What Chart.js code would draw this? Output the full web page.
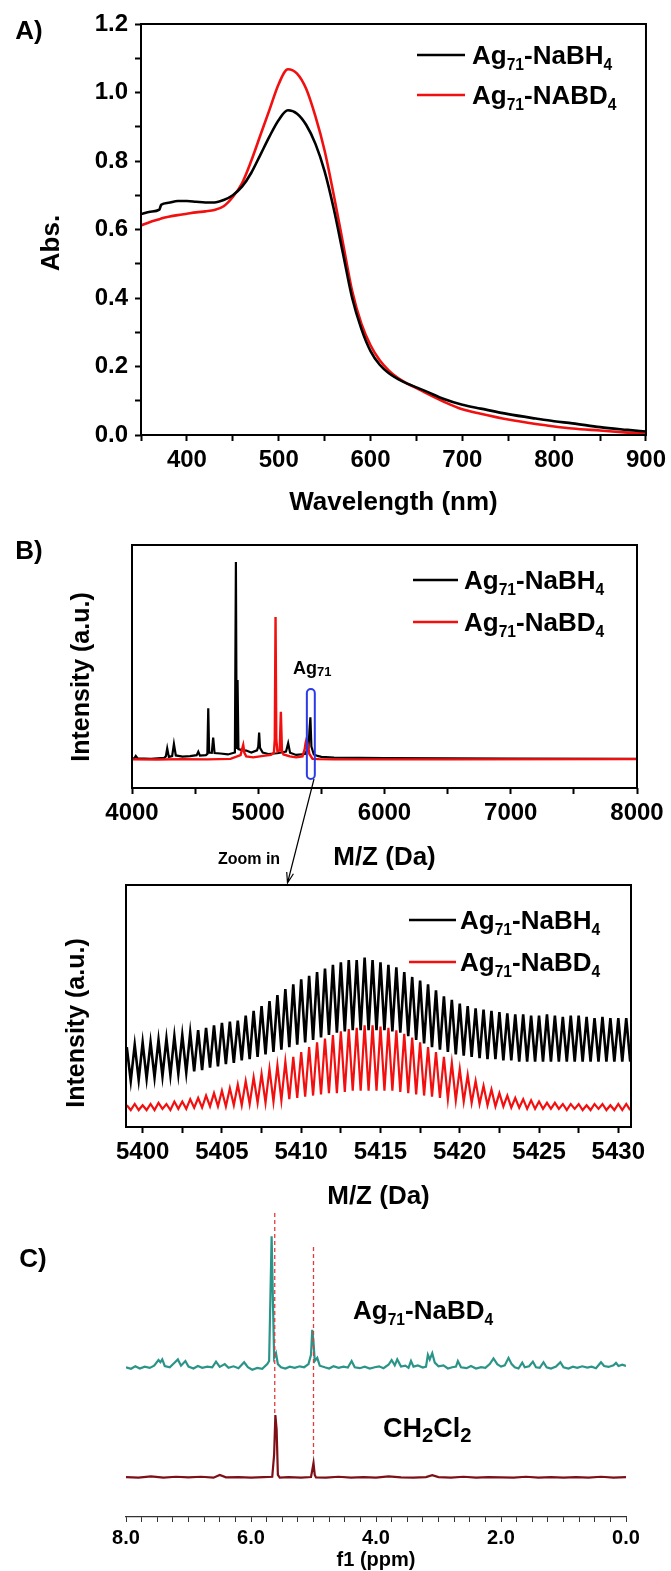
<!DOCTYPE html>
<html>
<head>
<meta charset="utf-8">
<title>Ag71 NaBH4 / NaBD4</title>
<script src="https://cdn.jsdelivr.net/npm/chart.js@4.4.1/dist/chart.umd.min.js"></script>
<style>
  html, body { margin: 0; padding: 0; background: #fff; overflow: hidden; }
  #page { position: relative; width: 671px; height: 1571px; }
  canvas { position: absolute; left: 0; }
</style>
</head>
<body>
<div id="page">
  <canvas id="uvChart" width="671" height="520" style="top:0;width:671px;height:520px"></canvas>
  <canvas id="msChart" width="671" height="370" style="top:520px;width:671px;height:370px"></canvas>
  <canvas id="zoomChart" width="671" height="340" style="top:875px;width:671px;height:340px"></canvas>
  <canvas id="nmrChart" width="671" height="371" style="top:1200px;width:671px;height:371px"></canvas>
</div>
<script>
// ---- A) UV-vis absorbance ----
const wavelength = [350, 360, 370, 372, 380, 390, 400, 410, 420, 430, 440, 450, 460, 470, 480, 490,
  500, 510, 520, 530, 540, 550, 560, 570, 580, 590, 600, 610, 620, 630, 640, 650, 660, 680,
  700, 720, 750, 780, 800, 820, 850, 880, 900];
const absNaBH4 = [0.645, 0.652, 0.658, 0.672, 0.678, 0.683, 0.683, 0.681, 0.679, 0.679, 0.686, 0.700,
  0.725, 0.765, 0.818, 0.872, 0.920, 0.948, 0.938, 0.905, 0.850, 0.770, 0.660, 0.530, 0.400, 0.310,
  0.245, 0.205, 0.180, 0.163, 0.150, 0.139, 0.128, 0.105, 0.088, 0.077, 0.061, 0.048, 0.040, 0.034,
  0.023, 0.015, 0.010];
const absNaBD4 = [0.612, 0.622, 0.630, 0.632, 0.637, 0.642, 0.646, 0.650, 0.653, 0.657, 0.668, 0.695,
  0.735, 0.800, 0.875, 0.950, 1.025, 1.068, 1.055, 1.010, 0.930, 0.830, 0.700, 0.560, 0.420, 0.325,
  0.262, 0.218, 0.188, 0.166, 0.150, 0.137, 0.123, 0.097, 0.075, 0.062, 0.045, 0.032, 0.025, 0.019,
  0.013, 0.007, 0.004];

// ---- B) mass spectrum, [m/z, intensity] ----
const msNaBH4 = [[4000, 12], [4020, 12.3], [4030, 13.2], [4045, 12.2], [4150, 12], [4255, 12.4],
  [4268, 13], [4279, 16.3], [4292, 12.8], [4318, 13.1], [4332, 18.1], [4347, 13.4], [4400, 12.9],
  [4460, 13.1], [4512, 13.5], [4525, 14.9], [4538, 13.3], [4585, 13.5], [4597, 14], [4604, 32.8],
  [4611, 14.6], [4632, 14.5], [4643, 20.7], [4654, 14.4], [4700, 14.2], [4760, 13.8], [4815, 14.6],
  [4823, 93], [4829, 16], [4836, 44.4], [4843, 16], [4870, 15.6], [4905, 15.4], [4945, 14.6],
  [4990, 15.5], [5000, 17], [5007, 22.8], [5014, 16.5], [5035, 14.6], [5080, 14], [5150, 14.3],
  [5220, 15], [5237, 18.4], [5252, 14.5], [5300, 13.6], [5370, 14], [5398, 16.5], [5406, 24],
  [5413, 29.1], [5421, 17], [5440, 13.8], [5470, 13.2], [5500, 12.8], [5600, 12.5], [6000, 12.3],
  [7000, 12.1], [8000, 12]];
const msNaBD4 = [[4000, 11.8], [4200, 11.7], [4400, 11.9], [4600, 11.8], [4780, 12], [4860, 13.5],
  [4872, 16], [4881, 17.7], [4890, 14.5], [4905, 13], [4960, 12.6], [5040, 13.2], [5100, 13.6],
  [5124, 14.5], [5131, 20], [5137, 70.4], [5143, 20], [5152, 15], [5170, 15.5], [5179, 31.4],
  [5188, 15], [5200, 13.8], [5250, 13], [5300, 12.6], [5350, 13], [5368, 16], [5375, 18.5],
  [5382, 20], [5392, 18], [5405, 14], [5430, 12], [5480, 11.9], [5600, 11.8], [6500, 11.8],
  [8000, 11.9]];
// boxed Ag71 region: m/z span and intensity span
const boxMz = [5385, 5448];
const boxInt = [3.7, 40.7];

// ---- B) zoom on the Ag71 isotope pattern ----
const isoStart = 5399.0;
const isoStep = 0.5;
const zoomBH4Peaks = [
  33, 34, 35, 35, 36, 36.5, 37.5, 38, 39, 40,
  41, 42, 43, 43.5, 44, 46, 48, 50, 52, 54.5,
  57, 59, 61, 62.5, 64, 65.5, 67, 68, 69, 69,
  70, 69, 68, 67, 66, 64, 62, 60.5, 59, 56.5,
  54, 52.5, 51, 50, 49, 48.5, 48, 47.5, 47, 46.5,
  46.5, 46, 46, 46.5, 46, 45.5, 46, 46, 45.5, 45,
  45.5, 45, 45, 45];
const zoomBH4Valleys = [
  19, 19.5, 20, 20.5, 21, 21.5, 22, 22.5, 23, 23.5,
  24.5, 25, 26, 26.5, 27.5, 28, 29, 30, 31, 32,
  33, 34, 35, 36, 37, 38, 39, 39.5, 40, 40,
  40, 40, 40, 39.5, 39, 37.5, 36, 34.5, 33, 32,
  31, 30, 29.5, 29, 28.5, 28, 28, 27.5, 27.5, 27,
  27, 27, 27, 27, 27, 27, 27, 27, 27, 27,
  27, 27, 27, 27];
const zoomBD4Peaks = [
  9, 9.5, 9, 9.5, 10, 9.5, 10.5, 10.5, 11.5, 12,
  13, 14, 15, 16, 17.5, 19, 20.5, 22, 24, 25.5,
  27, 29, 31, 33, 35, 36.5, 38, 39.5, 40.5, 41,
  42, 42, 41.5, 41, 40, 38.5, 37, 35, 33, 31,
  29, 26.5, 24, 21.5, 19, 17, 15.5, 14, 13, 12,
  11.5, 11, 10.5, 10, 10, 9.5, 9.5, 9.5, 9, 9.5,
  9.5, 9, 9.5, 9.5];
const zoomBD4Valleys = [
  7, 7, 7, 7, 7.5, 7, 7.5, 7.5, 8, 8,
  8.5, 8.5, 8.5, 9, 9, 9.5, 10, 10, 10.5, 11,
  11.5, 12, 12.5, 13, 13.5, 14, 14, 14.5, 15, 15,
  15, 15, 15, 15, 14.5, 14, 13.5, 13, 12.5, 12,
  11.5, 11, 10.5, 10, 9.5, 9, 8.5, 8.5, 8, 8,
  7.5, 7.5, 7.5, 7.5, 7.5, 7, 7.5, 7, 7, 7.5,
  7, 7, 7, 7];

// ---- C) 1H NMR, [ppm, intensity] ----
const nmrNaBD4 = [[8.00, 48], [7.92, 47.5], [7.85, 48.3], [7.78, 47.6], [7.70, 48.2], [7.62, 47.8],
  [7.55, 48.5], [7.48, 50.3], [7.45, 49.6], [7.42, 50.5], [7.38, 48.4], [7.30, 48], [7.22, 49.5],
  [7.17, 50.5], [7.12, 48.5], [7.05, 50], [7.00, 48.2], [6.92, 47.6], [6.85, 48.4], [6.78, 47.8],
  [6.70, 48.2], [6.62, 48], [6.56, 49.8], [6.50, 48.1], [6.42, 49], [6.36, 47.8], [6.28, 48.3],
  [6.20, 47.7], [6.11, 49.6], [6.05, 48], [5.98, 47.2], [5.90, 47.8], [5.82, 47.5], [5.74, 49],
  [5.71, 50], [5.69, 70], [5.67, 90], [5.65, 70], [5.63, 51], [5.60, 52.5], [5.57, 49], [5.52, 48],
  [5.45, 47.6], [5.38, 48.2], [5.30, 47.8], [5.22, 48.3], [5.15, 48], [5.08, 49], [5.04, 52],
  [5.02, 60], [5.00, 56], [4.98, 50], [4.94, 51], [4.90, 48.5], [4.82, 48], [4.75, 47.6],
  [4.68, 48.3], [4.60, 47.8], [4.52, 48.2], [4.45, 47.9], [4.39, 50], [4.34, 48], [4.26, 47.7],
  [4.18, 48.2], [4.10, 47.6], [4.02, 48], [3.95, 48.3], [3.88, 47.7], [3.80, 48.8], [3.75, 50.3],
  [3.70, 48.6], [3.66, 50.5], [3.60, 48.2], [3.53, 48.5], [3.48, 47.8], [3.44, 50], [3.40, 48.2],
  [3.33, 48.6], [3.25, 47.9], [3.20, 48.2], [3.17, 52], [3.14, 50.5], [3.10, 52.5], [3.06, 49.5],
  [3.00, 48.3], [2.92, 48.6], [2.85, 47.6], [2.78, 48], [2.72, 48.2], [2.69, 50], [2.64, 48],
  [2.55, 47.7], [2.48, 48.4], [2.40, 47.6], [2.32, 48], [2.25, 47.8], [2.18, 49], [2.12, 50.8],
  [2.06, 49], [2.00, 48.2], [1.94, 48.6], [1.88, 51], [1.83, 49], [1.78, 48], [1.72, 47.6],
  [1.66, 49.5], [1.62, 48], [1.55, 48.3], [1.49, 49.8], [1.44, 48], [1.38, 47.8], [1.32, 49.6],
  [1.27, 48], [1.20, 47.6], [1.12, 48.2], [1.05, 49.6], [1.00, 48], [0.92, 47.6], [0.85, 48.2],
  [0.78, 47.8], [0.70, 48.3], [0.62, 47.9], [0.55, 48.2], [0.48, 47.7], [0.40, 49.6], [0.35, 48.4],
  [0.28, 48.1], [0.20, 48.6], [0.16, 49.4], [0.12, 48.4], [0.06, 48.8], [0.00, 48.4]];
const nmrCH2Cl2 = [[8.00, 12.8], [7.80, 12.6], [7.60, 13], [7.40, 12.6], [7.20, 12.9], [7.00, 12.7],
  [6.80, 12.9], [6.60, 12.6], [6.50, 13.5], [6.40, 12.7], [6.20, 12.8], [6.00, 12.6], [5.80, 12.8],
  [5.66, 12.9], [5.63, 20], [5.61, 32.7], [5.59, 28], [5.57, 13.5], [5.54, 12.6], [5.40, 12.8],
  [5.20, 12.6], [5.04, 12.8], [5.02, 15], [5.00, 17.3], [4.98, 13.5], [4.96, 12.7], [4.80, 12.6],
  [4.60, 12.9], [4.40, 12.6], [4.20, 12.8], [4.00, 12.6], [3.80, 13], [3.60, 12.7], [3.40, 12.6],
  [3.20, 12.8], [3.10, 13.4], [3.00, 12.8], [2.80, 12.6], [2.60, 12.9], [2.40, 12.6], [2.20, 12.8],
  [2.00, 12.7], [1.80, 12.6], [1.60, 12.9], [1.40, 12.6], [1.20, 12.8], [1.00, 12.6], [0.80, 12.8],
  [0.60, 12.6], [0.40, 12.9], [0.20, 12.6], [0.00, 12.8]];
// dashed guides joining the matching signals
const refShift = [5.62, 5.00];
const refTop = [97.4, 86.5];
const refBottom = [32.7, 19.2];

const FONT = "'Liberation Sans', Arial, Helvetica, sans-serif";
const RED = '#f20f0f';
const TEAL = '#2a9488';
const MAROON = '#7d0f16';

const LBL_BH4 = [['Ag', 0], ['71', 1], ['-NaBH', 0], ['4', 1]];
const LBL_BD4 = [['Ag', 0], ['71', 1], ['-NaBD', 0], ['4', 1]];
const LBL_ABD4 = [['Ag', 0], ['71', 1], ['-NABD', 0], ['4', 1]];

// Text with subscripts, vertically centred on cy
function richText(ctx, parts, x, cy, size, subScale = 0.6, subDrop = 0.22) {
  const base = cy + size * 0.36;
  let cx = x;
  ctx.textAlign = 'left';
  ctx.textBaseline = 'alphabetic';
  parts.forEach(([txt, sub]) => {
    const s = sub ? size * subScale : size;
    ctx.font = `bold ${s}px ${FONT}`;
    ctx.fillText(txt, cx, sub ? base + size * subDrop : base);
    cx += ctx.measureText(txt).width;
  });
}

// Vertical axis caption, read bottom to top
function sideTitle(ctx, txt, cx, cy, size) {
  ctx.save();
  ctx.translate(cx, cy);
  ctx.rotate(-Math.PI / 2);
  ctx.fillStyle = '#000';
  ctx.font = `bold ${size}px ${FONT}`;
  ctx.textAlign = 'center';
  ctx.textBaseline = 'middle';
  ctx.fillText(txt, 0, 0);
  ctx.restore();
}

function drawLegend(ctx, items, x0, x1, xt, size) {
  items.forEach(it => {
    ctx.strokeStyle = it.color;
    ctx.lineWidth = 2.5;
    ctx.beginPath();
    ctx.moveTo(x0, it.y);
    ctx.lineTo(x1, it.y);
    ctx.stroke();
    ctx.fillStyle = '#000';
    richText(ctx, it.parts, xt, it.y, size);
  });
}

function drawFrame(chart) {
  const { ctx, chartArea: a } = chart;
  ctx.save();
  ctx.strokeStyle = '#000';
  ctx.lineWidth = 2;
  ctx.strokeRect(a.left, a.top, a.right - a.left, a.bottom - a.top);
  ctx.restore();
}

function panelLetter(ctx, txt, x, y) {
  ctx.save();
  ctx.fillStyle = '#000';
  ctx.font = `bold 26px ${FONT}`;
  ctx.textAlign = 'center';
  ctx.textBaseline = 'middle';
  ctx.fillText(txt, x, y);
  ctx.restore();
}

function pairs(arr) {
  return arr.map(([x, y]) => ({ x: x, y: y }));
}

function isotopeTrace(peaks, valleys) {
  const pts = [];
  peaks.forEach((p, i) => {
    const m = isoStart + i * isoStep;
    pts.push({ x: m, y: p }, { x: m + isoStep / 2, y: valleys[i] });
  });
  return pts;
}

// Bottom axis with outward ticks and bold labels
function bottomAxis(min, max, step, labelFn, title, height, titlePad) {
  return {
    type: 'linear',
    min: min,
    max: max,
    border: { display: false },
    grid: { display: true, drawOnChartArea: false, drawTicks: true, tickLength: 6, tickWidth: 2, tickColor: '#000' },
    ticks: {
      stepSize: step, includeBounds: false, autoSkip: false, maxRotation: 0, padding: 5,
      color: '#000', font: { family: FONT, size: 24, weight: 'bold' },
      callback: labelFn
    },
    title: {
      display: true, text: title, color: '#000',
      font: { family: FONT, size: 26, weight: 'bold' },
      padding: { top: 0, bottom: titlePad }
    },
    afterFit: s => { s.height = height; }
  };
}

// Left axis that only reserves room; its caption is drawn by the panel plugin
function hiddenLeftAxis(width) {
  return {
    min: 0,
    max: 100,
    border: { display: false },
    grid: { display: false },
    ticks: { display: false },
    afterFit: s => { s.width = width; }
  };
}

const commonOptions = {
  responsive: false,
  animation: false,
  events: [],
  plugins: { legend: { display: false }, tooltip: { enabled: false } }
};

// A) absorbance spectra
new Chart(document.getElementById('uvChart'), {
  type: 'line',
  data: {
    datasets: [
      {
        label: 'Ag71-NaBH4',
        data: wavelength.map((w, i) => ({ x: w, y: absNaBH4[i] })),
        borderColor: '#000', borderWidth: 2.6, pointRadius: 0,
        cubicInterpolationMode: 'monotone', order: 1
      },
      {
        label: 'Ag71-NABD4',
        data: wavelength.map((w, i) => ({ x: w, y: absNaBD4[i] })),
        borderColor: RED, borderWidth: 2.6, pointRadius: 0,
        cubicInterpolationMode: 'monotone', order: 2
      }
    ]
  },
  options: {
    ...commonOptions,
    layout: { padding: { top: 24, right: 23, left: 0, bottom: 0 } },
    scales: {
      x: bottomAxis(350, 900, 50, v => (v % 100 === 0 ? String(v) : ''), 'Wavelength (nm)', 85, 1.4),
      y: {
        min: 0,
        max: 1.2,
        border: { display: false },
        grid: { display: true, drawOnChartArea: false, drawTicks: true, tickLength: 6, tickWidth: 2, tickColor: '#000' },
        ticks: {
          stepSize: 0.1, autoSkip: false, padding: 7, color: '#000',
          font: { family: FONT, size: 24, weight: 'bold' },
          callback: v => {
            const t = Math.round(v * 10);
            return t % 2 === 0 ? (t / 10).toFixed(1) : '';
          }
        },
        afterFit: s => { s.width = 141; }
      }
    }
  },
  plugins: [{
    id: 'uvDecor',
    afterDraw(chart) {
      const ctx = chart.ctx;
      drawFrame(chart);
      ctx.save();
      drawLegend(ctx, [
        { y: 55, color: '#000', parts: LBL_BH4 },
        { y: 95, color: RED, parts: LBL_ABD4 }
      ], 417, 465, 472, 26);
      ctx.restore();
      sideTitle(ctx, 'Abs.', 52, 243, 26);
      panelLetter(ctx, 'A)', 29, 32);
    }
  }]
});

// B) full mass spectrum
new Chart(document.getElementById('msChart'), {
  type: 'line',
  data: {
    datasets: [
      { label: 'Ag71-NaBH4', data: pairs(msNaBH4), borderColor: '#000', borderWidth: 2.2, pointRadius: 0, order: 2 },
      { label: 'Ag71-NaBD4', data: pairs(msNaBD4), borderColor: RED, borderWidth: 2.4, pointRadius: 0, order: 1 }
    ]
  },
  options: {
    ...commonOptions,
    layout: { padding: { top: 25, right: 34, left: 0, bottom: 0 } },
    scales: {
      x: bottomAxis(4000, 8000, 500, v => (v % 1000 === 0 ? String(v) : ''), 'M/Z (Da)', 102, 16.4),
      y: hiddenLeftAxis(132)
    }
  },
  plugins: [{
    id: 'msDecor',
    afterDraw(chart) {
      const { ctx, scales: { x, y } } = chart;
      drawFrame(chart);
      ctx.save();
      // Ag71 region marker
      const bx0 = x.getPixelForValue(boxMz[0]);
      const bx1 = x.getPixelForValue(boxMz[1]);
      const by0 = y.getPixelForValue(boxInt[1]);
      const by1 = y.getPixelForValue(boxInt[0]);
      ctx.strokeStyle = '#2b3be8';
      ctx.lineWidth = 2;
      ctx.beginPath();
      ctx.roundRect(bx0, by0, bx1 - bx0, by1 - by0, 4);
      ctx.stroke();
      ctx.fillStyle = '#000';
      richText(ctx, [['Ag', 0], ['71', 1]], 293, 148, 18, 0.72, 0.08);

      // arrow down to the zoomed panel
      const sx = 314, sy = by1, ex = 287.5, ey = 363;
      ctx.strokeStyle = '#000';
      ctx.lineWidth = 1.2;
      ctx.beginPath();
      ctx.moveTo(sx, sy);
      ctx.lineTo(ex, ey);
      const ang = Math.atan2(ey - sy, ex - sx);
      ctx.moveTo(ex - 11 * Math.cos(ang - 0.32), ey - 11 * Math.sin(ang - 0.32));
      ctx.lineTo(ex, ey);
      ctx.lineTo(ex - 11 * Math.cos(ang + 0.32), ey - 11 * Math.sin(ang + 0.32));
      ctx.stroke();
      ctx.font = `bold 16px ${FONT}`;
      ctx.textAlign = 'center';
      ctx.textBaseline = 'middle';
      ctx.fillText('Zoom in', 249, 340);

      drawLegend(ctx, [
        { y: 60, color: '#000', parts: LBL_BH4 },
        { y: 102, color: RED, parts: LBL_BD4 }
      ], 413, 458, 464, 26);
      ctx.restore();
      sideTitle(ctx, 'Intensity (a.u.)', 82, 157, 25);
      panelLetter(ctx, 'B)', 29, 32);
    }
  }]
});

// B) zoom on the isotope envelope
new Chart(document.getElementById('zoomChart'), {
  type: 'line',
  data: {
    datasets: [
      { label: 'Ag71-NaBH4', data: isotopeTrace(zoomBH4Peaks, zoomBH4Valleys), borderColor: '#000', borderWidth: 2.6, pointRadius: 0, order: 1 },
      { label: 'Ag71-NaBD4', data: isotopeTrace(zoomBD4Peaks, zoomBD4Valleys), borderColor: RED, borderWidth: 2.2, pointRadius: 0, order: 2 }
    ]
  },
  options: {
    ...commonOptions,
    layout: { padding: { top: 10, right: 40, left: 0, bottom: 0 } },
    scales: {
      x: bottomAxis(5398.95, 5430.8, 2.5, v => (Math.abs(v % 5) < 1e-6 ? String(v) : ''), 'M/Z (Da)', 88, 2.4),
      y: hiddenLeftAxis(126)
    }
  },
  plugins: [{
    id: 'zoomDecor',
    afterDraw(chart) {
      const ctx = chart.ctx;
      drawFrame(chart);
      ctx.save();
      drawLegend(ctx, [
        { y: 45, color: '#000', parts: LBL_BH4 },
        { y: 87, color: RED, parts: LBL_BD4 }
      ], 409, 456, 460, 26);
      ctx.restore();
      sideTitle(ctx, 'Intensity (a.u.)', 77, 148, 25);
    }
  }]
});

// C) NMR spectra
const guideSets = refShift.map((s, i) => ({
  label: 'guide' + i,
  data: [{ x: s, y: refTop[i] }, { x: s, y: refBottom[i] }],
  borderColor: '#e03c3c', borderWidth: 1.3, borderDash: [4, 3], pointRadius: 0, order: 0
}));

new Chart(document.getElementById('nmrChart'), {
  type: 'line',
  data: {
    datasets: [
      { label: 'Ag71-NaBD4', data: pairs(nmrNaBD4), borderColor: TEAL, borderWidth: 2.2, pointRadius: 0, order: 2 },
      { label: 'CH2Cl2', data: pairs(nmrCH2Cl2), borderColor: MAROON, borderWidth: 2.2, pointRadius: 0, order: 2 },
      ...guideSets
    ]
  },
  options: {
    ...commonOptions,
    layout: { padding: { top: 5, right: 45, left: 126, bottom: 0 } },
    scales: {
      x: {
        type: 'linear',
        min: 0,
        max: 8,
        reverse: true,
        border: { display: true, color: '#333', width: 1.2 },
        grid: { display: true, drawOnChartArea: false, drawTicks: true, tickLength: 5, tickWidth: 1, tickColor: '#333' },
        ticks: {
          stepSize: 0.25, includeBounds: false, autoSkip: false, maxRotation: 0, padding: 4,
          color: '#000', font: { family: FONT, size: 20, weight: 'bold' },
          callback: v => (Math.abs(v % 2) < 1e-6 ? v.toFixed(1) : '')
        },
        title: {
          display: true, text: 'f1 (ppm)', color: '#000',
          font: { family: FONT, size: 20, weight: 'bold', lineHeight: 1 },
          padding: { top: 0, bottom: 1 }
        },
        afterFit: s => { s.height = 54; }
      },
      y: { display: false, min: 0, max: 100 }
    }
  },
  plugins: [{
    id: 'nmrDecor',
    afterDraw(chart) {
      const ctx = chart.ctx;
      ctx.save();
      ctx.fillStyle = '#000';
      richText(ctx, LBL_BD4, 353, 110, 26);
      richText(ctx, [['CH', 0], ['2', 1], ['Cl', 0], ['2', 1]], 383, 227, 27, 0.75, 0.2);
      ctx.restore();
      panelLetter(ctx, 'C)', 33, 60);
    }
  }]
});
</script>
</body>
</html>
